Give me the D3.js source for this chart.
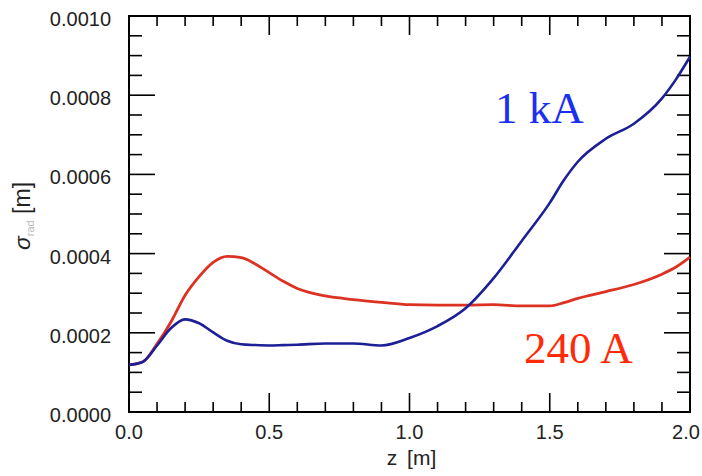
<!DOCTYPE html>
<html>
<head>
<meta charset="utf-8">
<script src="https://cdn.jsdelivr.net/npm/d3@7"></script>
<style>
  body { margin: 0; background: #fff; }
</style>
</head>
<body>
<script>
// beam size along z for two currents
var zVals = [0, 0.05, 0.1, 0.15, 0.2, 0.25, 0.3, 0.35, 0.4, 0.45, 0.5, 0.55, 0.6, 0.7, 0.8, 0.9,
             1.0, 1.1, 1.2, 1.3, 1.4, 1.5, 1.55, 1.6, 1.7, 1.8, 1.9, 1.95, 2.0];

var sigma1kA = [0.000119, 0.000127, 0.000168, 0.000212, 0.000234, 0.000224, 0.000201, 0.000180,
                0.000171, 0.000169, 0.000168, 0.000169, 0.000170, 0.000173, 0.000173, 0.000168,
                0.000187, 0.000217, 0.000262, 0.000338, 0.000432, 0.000528, 0.000585, 0.000632,
                0.000690, 0.000728, 0.000792, 0.000840, 0.000897];

var sigma240A = [0.000119, 0.000127, 0.000172, 0.000228, 0.000295, 0.000342, 0.000378, 0.000393,
                 0.000390, 0.000374, 0.000352, 0.000330, 0.000312, 0.000293, 0.000284, 0.000277,
                 0.000271, 0.000270, 0.000270, 0.000271, 0.000268, 0.000268, 0.000276, 0.000287,
                 0.000304, 0.000322, 0.000348, 0.000366, 0.000391];

var xTicks = [0, 0.5, 1.0, 1.5, 2.0];
var yTicks = [0, 0.0002, 0.0004, 0.0006, 0.0008, 0.0010];

var w = 702, h = 476;
var pLeft = 129, pRight = 690, pTop = 16, pBottom = 412;
var sans = "'Liberation Sans', Arial, sans-serif";
var serif = "'Liberation Serif', 'Times New Roman', serif";

var x = d3.scaleLinear().domain([0, 2]).range([pLeft, pRight]);
var y = d3.scaleLinear().domain([0, 0.001]).range([pBottom, pTop]);

var svg = d3.select("body").append("svg")
    .attr("width", w)
    .attr("height", h);

// minor ticks (every 0.1 on x, every 0.00005 on y), major ones longer
var xMinor = d3.range(0, 2.0001, 0.1);
var yMinor = d3.range(0, 0.0010001, 0.00005);

var ticks = svg.append("g").attr("stroke", "#000").attr("stroke-width", 1.6);

xMinor.forEach(function(v, i) {
  var len = (i % 5 === 0) ? 19 : 10;
  ticks.append("line").attr("x1", x(v)).attr("x2", x(v)).attr("y1", pBottom).attr("y2", pBottom - len);
  ticks.append("line").attr("x1", x(v)).attr("x2", x(v)).attr("y1", pTop).attr("y2", pTop + len);
});
yMinor.forEach(function(v, i) {
  var len = (i % 4 === 0) ? 26 : 13;
  ticks.append("line").attr("y1", y(v)).attr("y2", y(v)).attr("x1", pLeft).attr("x2", pLeft + len);
  ticks.append("line").attr("y1", y(v)).attr("y2", y(v)).attr("x1", pRight).attr("x2", pRight - len);
});

// frame
svg.append("rect")
    .attr("x", pLeft).attr("y", pTop)
    .attr("width", pRight - pLeft).attr("height", pBottom - pTop)
    .attr("fill", "none").attr("stroke", "#000").attr("stroke-width", 2);

// tick labels
svg.selectAll(".xl").data(xTicks).enter().append("text")
    .attr("x", function(d) { return Math.min(x(d), w - 16); })
    .attr("y", 439)
    .attr("text-anchor", "middle")
    .style("font-family", sans)
    .style("font-size", "20px")
    .attr("fill", "#222")
    .text(function(d) { return d3.format(".1f")(d); });

svg.selectAll(".yl").data(yTicks).enter().append("text")
    .attr("x", 111)
    .attr("y", function(d) { return y(d) + 10; })
    .attr("text-anchor", "end")
    .style("font-family", sans)
    .style("font-size", "20px")
    .attr("fill", "#222")
    .text(function(d) { return d3.format(".4f")(d); });

// axis titles
svg.append("text")
    .attr("x", (pLeft + pRight) / 2 + 2)
    .attr("y", 465)
    .attr("text-anchor", "middle")
    .style("font-family", sans)
    .style("font-size", "21px")
    .style("word-spacing", "4px")
    .attr("fill", "#222")
    .text("z [m]");

var yt = svg.append("text")
    .attr("transform", "translate(30," + ((pTop + pBottom) / 2 + 2) + ") rotate(-90)")
    .attr("text-anchor", "middle")
    .style("font-family", sans)
    .style("font-size", "23px")
    .attr("fill", "#222");
yt.append("tspan").style("font-style", "italic").text("σ");
yt.append("tspan").style("font-size", "11px").attr("fill", "#bbb").attr("dy", 4).text("rad");
yt.append("tspan").attr("dy", -4).text(" [m]");

// curves
var line = d3.line()
    .x(function(d) { return x(d[0]); })
    .y(function(d) { return y(d[1]); })
    .curve(d3.curveMonotoneX);

svg.append("path")
    .datum(d3.zip(zVals, sigma240A))
    .attr("d", line)
    .attr("fill", "none")
    .attr("stroke", "#dc3222")
    .attr("stroke-width", 2.8);

svg.append("path")
    .datum(d3.zip(zVals, sigma1kA))
    .attr("d", line)
    .attr("fill", "none")
    .attr("stroke", "#1c1f96")
    .attr("stroke-width", 2.6);

// curve labels
svg.append("text")
    .attr("x", 495).attr("y", 123)
    .style("font-family", serif)
    .style("font-size", "45px")
    .attr("fill", "#1a2ff0")
    .text("1 kA");

svg.append("text")
    .attr("x", 524).attr("y", 363)
    .style("font-family", serif)
    .style("font-size", "45px")
    .attr("fill", "#ff2a08")
    .text("240 A");
</script>
</body>
</html>
